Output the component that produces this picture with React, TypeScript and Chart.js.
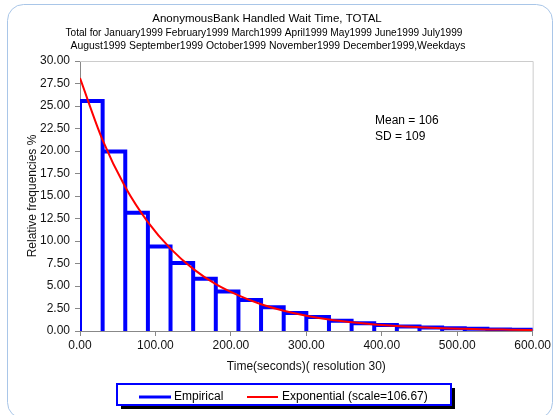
import React, { useEffect, useRef } from "react";
import { Chart, registerables } from "chart.js";

Chart.register(...registerables);

const titleLines = [
  "AnonymousBank Handled Wait Time, TOTAL",
  "Total for January1999 February1999 March1999 April1999 May1999 June1999 July1999",
  "August1999 September1999 October1999 November1999 December1999,Weekdays",
];
const xTitle = "Time(seconds)( resolution 30)";
const yTitle = "Relative frequencies %";
const statsLines = ["Mean = 106", "SD = 109"];
const legendLabels = ["Empirical", "Exponential (scale=106.67)"];

// histogram bin edges (seconds) and empirical relative frequencies (%)
const binEdges = [0, 30, 60, 90, 120, 150, 180, 210, 240, 270, 300, 330, 360, 390, 420, 450, 480, 510, 540, 570, 600];
const empirical = [25.55, 19.95, 13.15, 9.4, 7.55, 5.8, 4.4, 3.45, 2.65, 2.0, 1.55, 1.15, 0.87, 0.67, 0.5, 0.38, 0.3, 0.25, 0.17, 0.13];

// fitted exponential curve
const curveX = [0, 30, 60, 90, 120, 150, 180, 210, 240, 270, 300, 330, 360, 390, 420, 450, 480, 510, 540, 570, 600];
const curveY = [28.1, 21.2, 16.0, 12.1, 9.15, 6.9, 5.2, 3.95, 2.97, 2.25, 1.7, 1.28, 0.97, 0.73, 0.55, 0.42, 0.31, 0.24, 0.18, 0.14, 0.1];

const FONT = "'Liberation Sans', Arial, sans-serif";

export default function App() {
  const ref = useRef<HTMLCanvasElement | null>(null);

  useEffect(() => {
    if (!ref.current) return;

    const histPts: { x: number; y: number }[] = [{ x: binEdges[0], y: 0 }];
    for (let i = 0; i < empirical.length; i++) {
      histPts.push({ x: binEdges[i], y: empirical[i] });
      histPts.push({ x: binEdges[i + 1], y: empirical[i] });
      histPts.push({ x: binEdges[i + 1], y: 0 });
    }
    const curvePts = curveX.map((x, i) => ({ x, y: curveY[i] }));

    const decor = {
      id: "decor",
      beforeDraw(chart: any) {
        const ctx = chart.ctx;
        ctx.save();
        ctx.fillStyle = "#ffffff";
        ctx.fillRect(0, 0, chart.width, chart.height);
        ctx.strokeStyle = "#a9c6e8";
        ctx.lineWidth = 1;
        ctx.beginPath();
        (ctx as any).roundRect(7.5, 4.5, 545, 414, 16);
        ctx.stroke();
        // titles
        ctx.fillStyle = "#000";
        ctx.textAlign = "center";
        ctx.textBaseline = "middle";
        ctx.font = `11.5px ${FONT}`;
        ctx.fillText(titleLines[0], 267, 19);
        ctx.font = `11px ${FONT}`;
        ctx.fillText(titleLines[1], 264, 33, 397);
        ctx.fillText(titleLines[2], 268, 46, 395);
        ctx.restore();
      },
      beforeDatasetsDraw(chart: any) {
        const { ctx, chartArea } = chart;
        ctx.save();
        ctx.strokeStyle = "#cccccc";
        ctx.lineWidth = 1;
        ctx.beginPath();
        ctx.moveTo(chartArea.left, chartArea.top + 0.5);
        ctx.lineTo(chartArea.right + 0.5, chartArea.top + 0.5);
        ctx.lineTo(chartArea.right + 0.5, chartArea.bottom);
        ctx.stroke();
        ctx.restore();
      },
      afterDraw(chart: any) {
        const ctx = chart.ctx;
        ctx.save();
        // stats
        ctx.fillStyle = "#000";
        ctx.font = `12px ${FONT}`;
        ctx.textAlign = "left";
        ctx.textBaseline = "middle";
        ctx.fillText(statsLines[0], 375, 121);
        ctx.fillText(statsLines[1], 375, 137);
        // legend box
        const bx = 117, by = 384, bw = 334, bh = 21;
        ctx.fillStyle = "#000";
        ctx.fillRect(bx + 4, by + 4, bw, bh);
        ctx.fillStyle = "#fff";
        ctx.fillRect(bx, by, bw, bh);
        ctx.strokeStyle = "#0000ff";
        ctx.lineWidth = 2;
        ctx.strokeRect(bx, by, bw, bh);
        const ly = 397;
        ctx.lineWidth = 3;
        ctx.strokeStyle = "#0000ff";
        ctx.beginPath();
        ctx.moveTo(139, ly);
        ctx.lineTo(171, ly);
        ctx.stroke();
        ctx.lineWidth = 2;
        ctx.strokeStyle = "#ff0000";
        ctx.beginPath();
        ctx.moveTo(247, ly);
        ctx.lineTo(278, ly);
        ctx.stroke();
        ctx.fillStyle = "#000";
        ctx.font = `12px ${FONT}`;
        ctx.fillText(legendLabels[0], 174, ly);
        ctx.fillText(legendLabels[1], 282, ly);
        ctx.restore();
      },
    };

    const chart = new Chart(ref.current, {
      type: "line",
      data: {
        datasets: [
          {
            label: legendLabels[0],
            data: histPts,
            borderColor: "#0000ff",
            borderWidth: 4,
            pointRadius: 0,
            tension: 0,
            fill: false,
            order: 2,
            borderJoinStyle: "miter",
          } as any,
          {
            label: legendLabels[1],
            data: curvePts,
            borderColor: "#ff0000",
            borderWidth: 2,
            pointRadius: 0,
            cubicInterpolationMode: "monotone",
            fill: false,
            order: 1,
          } as any,
        ],
      },
      options: {
        animation: false,
        responsive: false,
        layout: { padding: { left: 25, right: 20, top: 61, bottom: 41 } },
        plugins: { legend: { display: false }, tooltip: { enabled: false }, title: { display: false } },
        scales: {
          x: {
            type: "linear",
            min: 0,
            max: 600,
            ticks: {
              stepSize: 100,
              callback: (v: any) => Number(v).toFixed(2),
              font: { size: 12, family: FONT },
              color: "#111",
              padding: 2,
              maxRotation: 0,
              autoSkip: false,
            },
            grid: { drawOnChartArea: false, drawTicks: true, tickLength: 5, color: "#888" },
            border: { color: "#888", width: 1 },
            title: { display: true, text: xTitle, font: { size: 12, family: FONT }, color: "#111", padding: 0 },
            afterFit: (s: any) => {
              s.height = 43;
            },
          },
          y: {
            type: "linear",
            min: 0,
            max: 30,
            ticks: {
              stepSize: 2.5,
              callback: (v: any) => Number(v).toFixed(2),
              font: { size: 12, family: FONT },
              color: "#111",
              padding: 5,
            },
            grid: { drawOnChartArea: false, drawTicks: true, tickLength: 5, color: "#888" },
            border: { color: "#888", width: 1 },
            title: { display: true, text: yTitle, font: { size: 12, family: FONT }, color: "#111", padding: 0 },
            afterFit: (s: any) => {
              s.width = 55;
            },
          },
        },
      } as any,
      plugins: [decor],
    });

    return () => chart.destroy();
  }, []);

  return (
    <div style={{ position: "fixed", left: 0, top: 0, width: 553, height: 415 }}>
      <canvas ref={ref} width={553} height={415} style={{ display: "block" }} />
    </div>
  );
}
